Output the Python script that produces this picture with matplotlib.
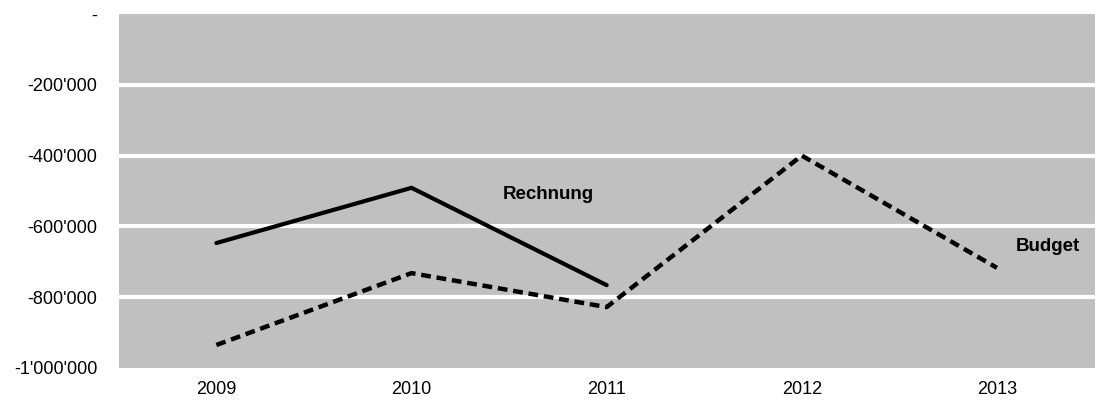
import matplotlib
matplotlib.use("Agg")
import matplotlib.pyplot as plt
from matplotlib.ticker import FuncFormatter

years = ["2009", "2010", "2011", "2012", "2013"]
rechnung = [-647000, -491000, -766000]
budget = [-935000, -732000, -828000, -400000, -717000]
y_ticks = [0, -200000, -400000, -600000, -800000, -1000000]

plt.rcParams['font.family'] = ['Liberation Sans', 'DejaVu Sans']


def fmt(v, pos):
    if v == 0:
        return "-"
    return f"{v:,.0f}".replace(",", "'")


fig = plt.figure(figsize=(11, 4), dpi=100)
ax = fig.add_axes([0.108, 0.08, 0.887, 0.885])
ax.set_facecolor("#c0c0c0")

x_r = list(range(len(rechnung)))
x_b = list(range(len(budget)))
ax.plot(x_r, rechnung, color="black", linewidth=3, solid_capstyle="round", zorder=3)
ax.plot(x_b, budget, color="black", linewidth=3.2, linestyle=(0, (2.2, 1.3)), zorder=3)

ax.text(1.70, -511000, "Rechnung", fontsize=13.5, fontweight="bold", ha="center", va="center")
ax.text(4.26, -656000, "Budget", fontsize=13.5, fontweight="bold", ha="center", va="center")

ax.set_xlim(-0.5, len(years) - 0.5)
ax.set_ylim(-1000000, 0)
ax.set_xticks(x_b)
ax.set_xticklabels(years)
ax.set_yticks(y_ticks)
ax.yaxis.set_major_formatter(FuncFormatter(fmt))
ax.tick_params(length=0, labelsize=13, pad=15.5)
ax.tick_params(axis="x", pad=9)
for t in y_ticks[1:-1]:
    ax.axhline(t, color="white", linewidth=3, zorder=2)
for s in ax.spines.values():
    s.set_visible(False)

fig.savefig("out.png", dpi=100)
